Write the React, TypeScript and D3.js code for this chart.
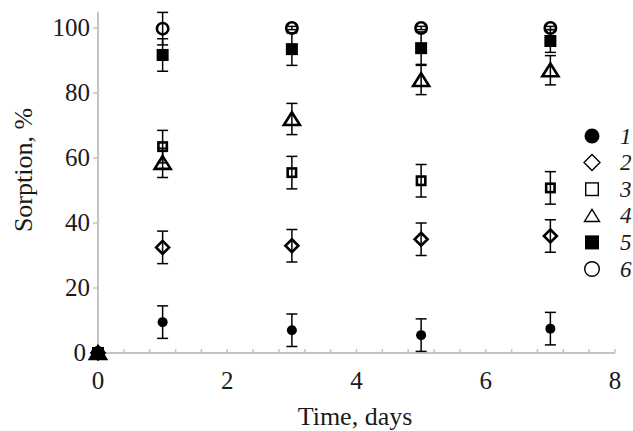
import React from 'react';
import * as d3 from 'd3';

const days = [0, 1, 3, 5, 7];
const s1 = [0, 9.5, 7, 5.5, 7.5];
const s2 = [0, 32.5, 33, 35, 36];
const s3 = [0, 63.5, 55.5, 53, 50.8];
const s4 = [0, 58.5, 72, 84, 87];
const s5 = [0, 91.7, 93.5, 93.8, 96];
const s6 = [0, 99.8, 100, 100, 100];
const e1 = [0, 5, 5, 5, 5];
const e2 = [0, 5, 5, 5, 5];
const e3 = [0, 5, 5, 5, 5];
const e4 = [0, 4.5, 4.8, 4.5, 4.5];
const e5 = [0, 5, 5, 5, 3.5];
const e6 = [0, 5, 0.5, 0.5, 0.5];
const yTicks = [0, 20, 40, 60, 80, 100];
const xTicks = [0, 2, 4, 6, 8];

type Kind = 'fcircle' | 'diamond' | 'square' | 'triangle' | 'fsquare' | 'circle';
const series: { name: string; kind: Kind; vals: number[]; errs: number[] }[] = [
  { name: '1', kind: 'fcircle', vals: s1, errs: e1 },
  { name: '2', kind: 'diamond', vals: s2, errs: e2 },
  { name: '3', kind: 'square', vals: s3, errs: e3 },
  { name: '4', kind: 'triangle', vals: s4, errs: e4 },
  { name: '5', kind: 'fsquare', vals: s5, errs: e5 },
  { name: '6', kind: 'circle', vals: s6, errs: e6 },
];

// marker sizes on the plot and in the legend
const plotSize: Record<Kind, number> = { fcircle: 10, diamond: 13, square: 11, triangle: 16, fsquare: 12, circle: 14 };
const legSize: Record<Kind, number> = { fcircle: 15, diamond: 16, square: 14, triangle: 15, fsquare: 14, circle: 16 };

function Marker({ kind, x, y, s, sw }: { kind: Kind; x: number; y: number; s: number; sw: number }) {
  const h = s / 2;
  switch (kind) {
    case 'fcircle':
      return <circle cx={x} cy={y} r={h} fill="#000" />;
    case 'circle':
      return <circle cx={x} cy={y} r={h - sw / 2} fill="none" stroke="#000" strokeWidth={sw} />;
    case 'diamond':
      return <path d={`M${x},${y - h}L${x + h},${y}L${x},${y + h}L${x - h},${y}Z`} fill="none" stroke="#000" strokeWidth={sw} />;
    case 'square':
      return <rect x={x - h + sw / 2} y={y - h + sw / 2} width={s - sw} height={s - sw} fill="none" stroke="#000" strokeWidth={sw} />;
    case 'fsquare':
      return <rect x={x - h} y={y - h} width={s} height={s} fill="#000" />;
    case 'triangle':
      return <path d={`M${x},${y - h * 0.85}L${x + h},${y + h * 0.75}L${x - h},${y + h * 0.75}Z`} fill="none" stroke="#000" strokeWidth={sw} />;
  }
}

export default function App() {
  const W = 633, H = 431;
  const x = d3.scaleLinear().domain([0, 8]).range([98, 615]);
  const y = d3.scaleLinear().domain([0, 100]).range([353, 28]);
  const minor = d3.range(0, 8.01, 0.4);
  const font = '"Liberation Serif", "Times New Roman", serif';
  const axisColor = '#c4c4c4';
  const ink = '#1a1a1a';

  return (
    <svg width={W} height={H} style={{ position: 'absolute', left: 0, top: 0, fontFamily: font }}>
      <rect width={W} height={H} fill="#fff" />
      <line x1={x(0)} x2={x(0)} y1={y(0)} y2={y(105)} stroke={axisColor} strokeWidth={2} />
      <line x1={x(0)} x2={x(8)} y1={y(0)} y2={y(0)} stroke={axisColor} strokeWidth={2} />
      {yTicks.map(t => (
        <g key={'y' + t}>
          <line x1={x(0) - 5} x2={x(0)} y1={y(t)} y2={y(t)} stroke={axisColor} strokeWidth={1.5} />
          <text x={x(0) - (t === 0 ? 12 : 8)} y={y(t)} dy="0.33em" textAnchor="end" fontSize={25} fill={ink}>{t}</text>
        </g>
      ))}
      {minor.map((t, i) => (
        <line key={'m' + i} x1={x(t)} x2={x(t)} y1={y(0)} y2={y(0) - 4} stroke={axisColor} strokeWidth={1.5} />
      ))}
      {xTicks.map(t => (
        <text key={'x' + t} x={x(t)} y={389} textAnchor="middle" fontSize={25} fill={ink}>{t}</text>
      ))}
      <text x={355} y={425} textAnchor="middle" fontSize={26} fill={ink}>Time, days</text>
      <text transform={`translate(32,170) rotate(-90)`} textAnchor="middle" fontSize={26} fill={ink}>Sorption, %</text>

      {series.map(sr =>
        days.map((d, i) => {
          const e = sr.errs[i];
          if (!e) return null;
          const cx = x(d);
          return (
            <g key={sr.name + 'e' + i} stroke="#000" strokeWidth={1.5}>
              <line x1={cx} x2={cx} y1={y(sr.vals[i] - e)} y2={y(sr.vals[i] + e)} />
              <line x1={cx - 5.5} x2={cx + 5.5} y1={y(sr.vals[i] - e)} y2={y(sr.vals[i] - e)} />
              <line x1={cx - 5.5} x2={cx + 5.5} y1={y(sr.vals[i] + e)} y2={y(sr.vals[i] + e)} />
            </g>
          );
        })
      )}
      {series.map(sr =>
        days.map((d, i) => (
          <Marker key={sr.name + 'm' + i} kind={sr.kind} x={x(d)} y={y(sr.vals[i])} s={plotSize[sr.kind]} sw={2.6} />
        ))
      )}

      {series.map((sr, i) => {
        const ly = 136 + i * 26.6;
        return (
          <g key={'l' + sr.name}>
            <Marker kind={sr.kind} x={592} y={ly} s={legSize[sr.kind]} sw={1.4} />
            <text x={620} y={ly} dy="0.33em" fontSize={23} fontStyle="italic" fill={ink}>{sr.name}</text>
          </g>
        );
      })}
    </svg>
  );
}
